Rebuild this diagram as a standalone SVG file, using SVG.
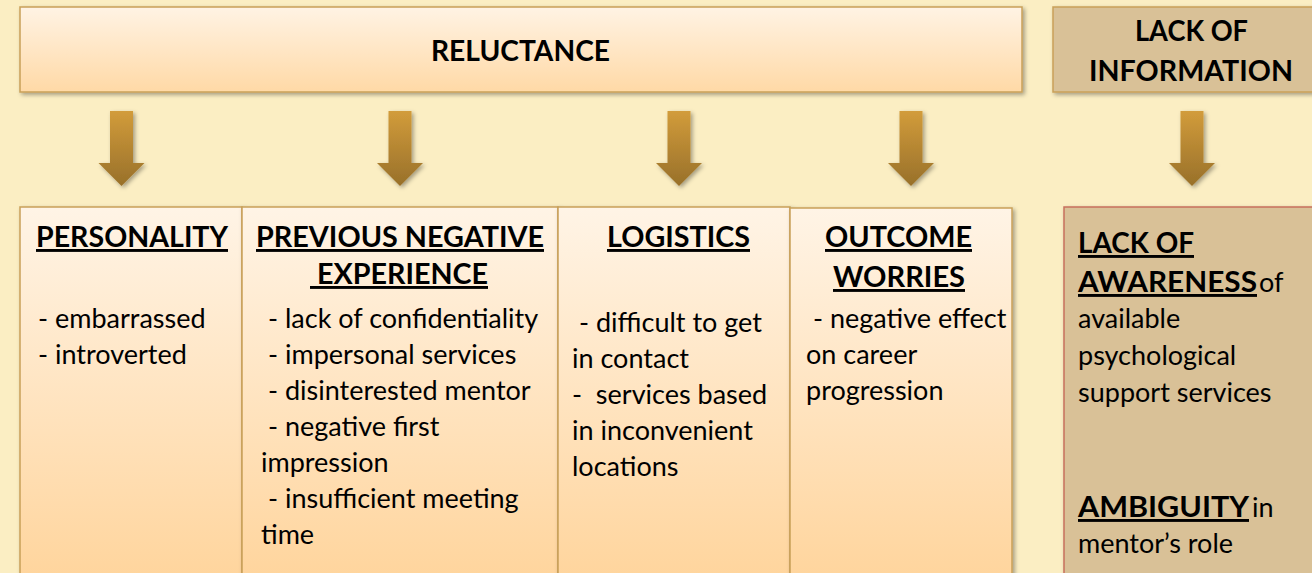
<svg xmlns="http://www.w3.org/2000/svg" width="1312" height="573" viewBox="0 0 1312 573">
<defs>
<linearGradient id="gBox" x1="0" y1="0" x2="0" y2="1"><stop offset="0" stop-color="#FFF4E6"/><stop offset="1" stop-color="#FFD49B"/></linearGradient>
<linearGradient id="gTop" x1="0" y1="0" x2="0" y2="1"><stop offset="0" stop-color="#FFF3E4"/><stop offset="1" stop-color="#FFD9A6"/></linearGradient>
<linearGradient id="gArrow" x1="0" y1="0" x2="0" y2="1"><stop offset="0" stop-color="#D29C3B"/><stop offset="1" stop-color="#98702A"/></linearGradient>
<filter id="sh" x="-10%" y="-10%" width="130%" height="130%"><feDropShadow dx="2" dy="2" stdDeviation="2" flood-color="#000" flood-opacity="0.35"/></filter>
<polygon id="arrow" points="-11.5,0 11.5,0 11.5,52 23,52 0,75 -23,52 -11.5,52"/>
</defs>
<style>
text{font-family:Lato,"Liberation Sans",sans-serif;fill:#000;}
.h{font-weight:bold;font-size:29px;}
.hu{font-weight:bold;font-size:29px;text-decoration:underline;}
.b{font-size:27px;}
.box{fill:url(#gBox);stroke:#C9A058;stroke-width:1.5;filter:url(#sh);}
.tan{fill:#D9C197;stroke:#C9A058;stroke-width:1.5;filter:url(#sh);}
.arr{fill:url(#gArrow);filter:url(#sh);}
</style>
<rect width="1312" height="573" fill="#FBEEC3"/>

<g id="reluctance">
<rect x="20" y="7" width="1002" height="85" fill="url(#gTop)" stroke="#C9A058" stroke-width="1.5" filter="url(#sh)"/>
<text class="h" x="431" y="61" textLength="179" lengthAdjust="spacingAndGlyphs">RELUCTANCE</text>
</g>
<g id="lack-of-information">
<rect class="tan" x="1053" y="7" width="270" height="85"/>
<text class="h" x="1135" y="41" textLength="113" lengthAdjust="spacingAndGlyphs">LACK OF</text>
<text class="h" x="1089" y="81" textLength="204" lengthAdjust="spacingAndGlyphs">INFORMATION</text>
</g>

<g id="connectors">
<use href="#arrow" class="arr" x="121.5" y="111"/>
<use href="#arrow" class="arr" x="400" y="111"/>
<use href="#arrow" class="arr" x="679" y="111"/>
<use href="#arrow" class="arr" x="911" y="111"/>
<use href="#arrow" class="arr" x="1192" y="111"/>
</g>

<g id="personality">
<rect class="box" x="20" y="207" width="222" height="380"/>
<text class="hu" x="36" y="247" textLength="192" lengthAdjust="spacingAndGlyphs">PERSONALITY</text>
<text class="b" x="38" y="328">- embarrassed</text>
<text class="b" x="38" y="364">- introverted</text>
</g>

<g id="previous-negative-experience">
<rect class="box" x="242" y="207" width="316" height="380"/>
<text class="hu" x="256" y="247" textLength="288" lengthAdjust="spacingAndGlyphs">PREVIOUS NEGATIVE</text>
<text class="hu" x="310" y="284" xml:space="preserve" textLength="178" lengthAdjust="spacingAndGlyphs"> EXPERIENCE</text>
<text class="b" x="268" y="328">- lack of confidentiality</text>
<text class="b" x="268" y="364">- impersonal services</text>
<text class="b" x="268" y="400">- disinterested mentor</text>
<text class="b" x="268" y="436">- negative first</text>
<text class="b" x="261" y="472">impression</text>
<text class="b" x="268" y="508">- insufficient meeting</text>
<text class="b" x="261" y="544">time</text>
</g>

<g id="logistics">
<rect class="box" x="558" y="207" width="232" height="380"/>
<text class="hu" x="607" y="247" textLength="143" lengthAdjust="spacingAndGlyphs">LOGISTICS</text>
<text class="b" x="579" y="332">- difficult to get</text>
<text class="b" x="572" y="368">in contact</text>
<text class="b" x="572" y="404" xml:space="preserve">-  services based</text>
<text class="b" x="572" y="440">in inconvenient</text>
<text class="b" x="572" y="476">locations</text>
</g>

<g id="outcome-worries">
<rect class="box" x="790" y="208" width="222" height="380"/>
<text class="hu" x="825" y="247" textLength="147" lengthAdjust="spacingAndGlyphs">OUTCOME</text>
<text class="hu" x="833" y="287" textLength="132" lengthAdjust="spacingAndGlyphs">WORRIES</text>
<text class="b" x="813" y="328">- negative effect</text>
<text class="b" x="806" y="364">on career</text>
<text class="b" x="806" y="400">progression</text>
</g>

<g id="lack-of-awareness">
<rect x="1064" y="207" width="260" height="380" fill="#D9C197" stroke="#C8705E" stroke-width="1.5" filter="url(#sh)"/>
<text class="hu" x="1078" y="253" textLength="116" lengthAdjust="spacingAndGlyphs">LACK OF</text>
<text class="hu" x="1078" y="292" textLength="179" lengthAdjust="spacingAndGlyphs">AWARENESS</text>
<text class="b" x="1259" y="292">of</text>
<text class="b" x="1078" y="328">available</text>
<text class="b" x="1078" y="365">psychological</text>
<text class="b" x="1078" y="402">support services</text>
<text class="hu" x="1078" y="517" textLength="171" lengthAdjust="spacingAndGlyphs">AMBIGUITY</text>
<text class="b" x="1252" y="517">in</text>
<text class="b" x="1078" y="553">mentor’s role</text>
</g>
</svg>
